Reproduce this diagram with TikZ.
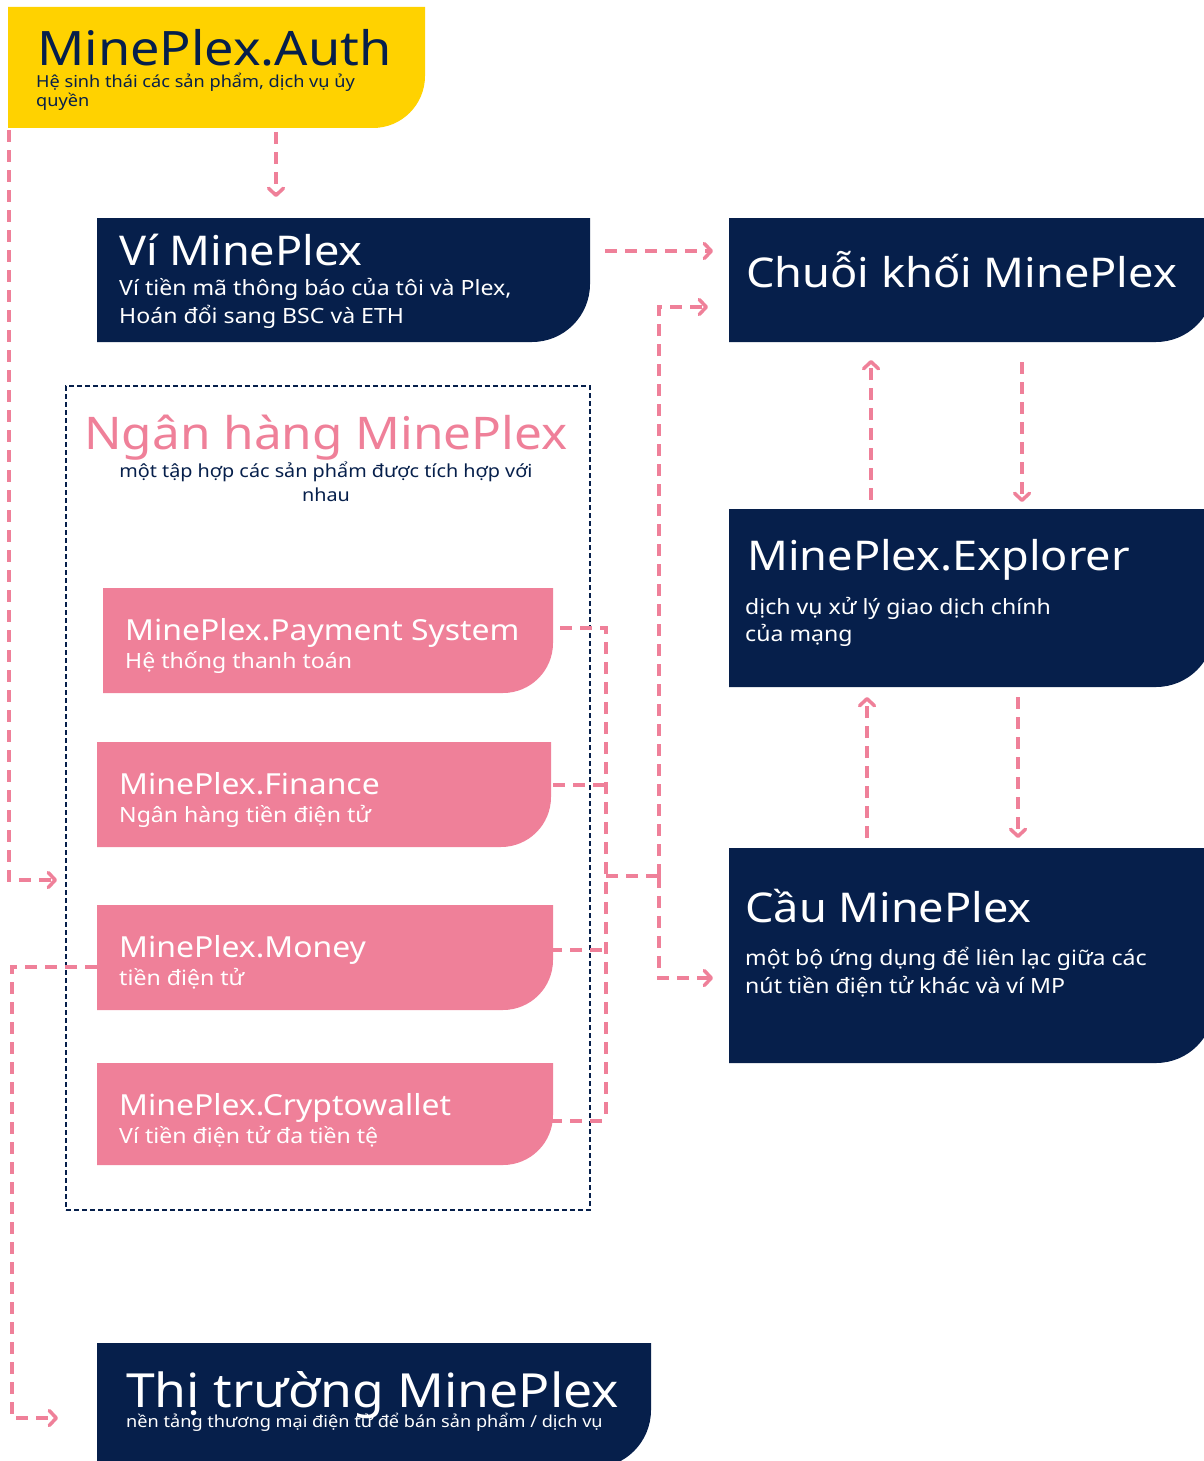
\documentclass[tikz,border=0pt]{standalone}
\usepackage{fontspec}
\setmainfont{Noto Sans}[FakeStretch=1.1]
\usetikzlibrary{arrows.meta,backgrounds,calc}
\definecolor{plexnavy}{HTML}{061F4B}
\definecolor{plexpink}{HTML}{EF8099}
\definecolor{plexyellow}{HTML}{FFD200}
\tikzset{
  panel/.style args={#1/#2}{anchor=north west, inner sep=0pt, outer sep=0pt,
    minimum width=#1pt, minimum height=#2pt},
  headline/.style={anchor=base west, inner sep=0pt, text=white,
    font=\fontsize{#1}{#1}\selectfont},
  subline/.style args={#1/#2}{anchor=base west, inner sep=0pt, text=white, align=left,
    font=\fontsize{#1}{#2}\selectfont},
  link/.style={draw=plexpink, line width=3.5pt, dash pattern=on 12pt off 8pt},
  tip/.style={link, -{Straight Barb[length=7pt,width=15pt,line cap=round,line join=round]}}
}
\begin{document}
\begin{tikzpicture}[x=1pt,y=-1pt]
\useasboundingbox (0,0) rectangle (1204,1461);
% panels
\node[panel=417/121] (auth) at (8,7) {};
\node[panel=493/124] (vi) at (97,218) {};
\node[panel=485/124] (chuoi) at (729,218) {};
\node[panel=485/178] (explorer) at (729,509) {};
\node[panel=485/215] (cau) at (729,848) {};
\node[panel=554/125] (market) at (97,1343) {};
\node[panel=450/105] (pay) at (103,588) {};
\node[panel=454/105] (finance) at (97,742) {};
\node[panel=456/105] (money) at (97,905) {};
\node[panel=456/102] (crypto) at (97,1063) {};
\node[panel=524/824, draw=plexnavy, line width=1.5pt, dash pattern=on 5pt off 3pt] (bank) at (66,386) {};
\begin{scope}[on background layer]
  \foreach \n/\c/\r in {auth/plexyellow/52, vi/plexnavy/58, chuoi/plexnavy/58,
      explorer/plexnavy/58, cau/plexnavy/58, market/plexnavy/58,
      pay/plexpink/50, finance/plexpink/50, money/plexpink/50, crypto/plexpink/50}
    \fill[\c] (\n.north west) -- (\n.north east) -- ([yshift=\r pt]\n.south east)
      arc[start angle=0, end angle=-90, radius=\r pt] -- (\n.south west) -- cycle;
\end{scope}
% texts (multi-line texts sit on the baseline of their last line)
\node[headline=47.5, text=plexnavy] (authT) at (37,66) {MinePlex.Auth};
\node[subline=16.5/19, text=plexnavy] (authS) at (36,107) {Hệ sinh thái các sản phẩm, dịch vụ ủy\\quyền};
\node[headline=41] (viT) at (119,265) {Ví MinePlex};
\node[subline=21/28] (viS) at (119,323) {Ví tiền mã thông báo của tôi và Plex,\\Hoán đổi sang BSC và ETH};
\node[headline=41] (chuoiT) at (746,287) {Chuỗi khối MinePlex};
\node[headline=45, anchor=base, text=plexpink] (bankT) at (326,449) {Ngân hàng MinePlex};
\node[subline=18/24, anchor=base, align=center, text=plexnavy] (bankS) at (326,501) {một tập hợp các sản phẩm được tích hợp với\\nhau};
\node[headline=29] (payT) at (125,640) {MinePlex.Payment System};
\node[subline=21/28] (payS) at (125,668) {Hệ thống thanh toán};
\node[headline=29] (financeT) at (119,794) {MinePlex.Finance};
\node[subline=21/28] (financeS) at (119,822) {Ngân hàng tiền điện tử};
\node[headline=29] (moneyT) at (119,957) {MinePlex.Money};
\node[subline=21/28] (moneyS) at (119,985) {tiền điện tử};
\node[headline=29] (cryptoT) at (119,1115) {MinePlex.Cryptowallet};
\node[subline=21/28] (cryptoS) at (119,1143) {Ví tiền điện tử đa tiền tệ};
\node[headline=41] (explorerT) at (747,570) {MinePlex.Explorer};
\node[subline=21/27] (explorerS) at (745,641) {dịch vụ xử lý giao dịch chính\\của mạng};
\node[headline=41] (cauT) at (745,922) {Cầu MinePlex};
\node[subline=21/28] (cauS) at (745,993) {một bộ ứng dụng để liên lạc giữa các\\nút tiền điện tử khác và ví MP};
\node[headline=47] (marketT) at (126,1407) {Thị trường MinePlex};
\node[subline=16.5/20] (marketS) at (126,1427) {nền tảng thương mại điện tử để bán sản phẩm / dịch vụ};
% joints
\coordinate (bankIn) at (57,880);
\coordinate (busTop) at (606,628);
\coordinate (busBot) at (606,1121);
\coordinate (busMid) at (606,876);
\coordinate (riser) at (659,876);
\coordinate (marketIn) at (58,1418);
% links
\draw[tip] ([xshift=268pt,yshift=-4pt]auth.south west) -- ([xshift=179pt,yshift=21pt]vi.north west);
\draw[tip] ([xshift=1pt,yshift=-2pt]auth.south west) |- (bankIn);
\draw[tip] ([xshift=15pt]vi.east |- 0,251) -- ([xshift=-16pt]chuoi.west |- 0,251);
\draw[link] ([xshift=7pt]pay.east |- busTop) -- (busTop) -- (busBot);
\draw[link] ([xshift=2pt]finance.east |- 0,785) -- (busTop |- 0,785);
\draw[link] ([xshift=-3pt]money.east |- 0,950) -- (busTop |- 0,950);
\draw[link] ([xshift=-3pt]crypto.east |- 0,1121) -- (busBot);
\draw[link] (busMid) -- (riser);
\draw[tip] (riser) |- ([xshift=-21pt]chuoi.west |- 0,307);
\draw[tip] (riser) |- ([xshift=-16pt]cau.west |- 0,978);
\draw[tip] ([xshift=142pt,yshift=9pt]explorer.north west) -- ([xshift=142pt,yshift=-18pt]chuoi.south west);
\draw[tip] ([xshift=293pt,yshift=-20pt]chuoi.south west) -- ([xshift=293pt,yshift=7pt]explorer.north west);
\draw[tip] ([xshift=138pt,yshift=10pt]cau.north west) -- ([xshift=138pt,yshift=-10pt]explorer.south west);
\draw[tip] ([xshift=289pt,yshift=-10pt]explorer.south west) -- ([xshift=289pt,yshift=10pt]cau.north west);
\draw[tip] (money.west |- 0,967) -- (12,967) |- (marketIn);
\end{tikzpicture}
\end{document}
